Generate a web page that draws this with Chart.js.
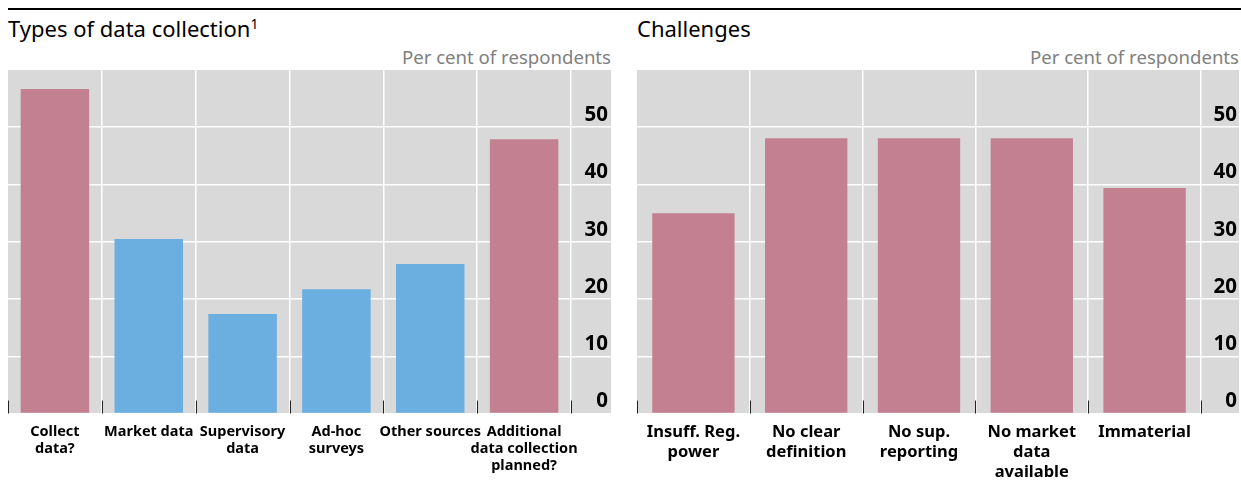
<!DOCTYPE html>
<html>
<head>
<meta charset="utf-8">
<script src="https://cdn.jsdelivr.net/npm/chart.js@4/dist/chart.umd.min.js"></script>
<style>
  html, body { margin: 0; padding: 0; background: #fff; }
  body { width: 1241px; height: 480px; position: relative; overflow: hidden; font-family: "Noto Sans", sans-serif; }
  .rule { position: absolute; left: 8px; top: 8px; width: 1233px; height: 2px; background: #000; }
  .title { position: absolute; font-size: 22px; line-height: 26px; color: #000; white-space: nowrap; }
  .title sup { font-size: 14px; vertical-align: 0; position: relative; top: -8px; }
  .unit { position: absolute; font-size: 18.6px; line-height: 22px; color: #808080; white-space: nowrap; text-align: right; }
  canvas { position: absolute; top: 0; }
</style>
</head>
<body>
<div class="rule"></div>
<div class="title" style="left:8px; top:15px;">Types of data collection<sup>1</sup></div>
<div class="unit" style="right:630px; top:46px;">Per cent of respondents</div>
<div class="title" style="left:637px; top:15px;">Challenges</div>
<div class="unit" style="right:2px; top:46px;">Per cent of respondents</div>
<canvas id="c1" width="620" height="480" style="left:0px;"></canvas>
<canvas id="c2" width="621" height="480" style="left:620px;"></canvas>
<script>
// ---- data ----
const typeCategories = [['Collect', 'data?'], ['Market data'], ['Supervisory', 'data'], ['Ad-hoc', 'surveys'], ['Other sources'], ['Additional', 'data collection', 'planned?']];
const typeValues = [56.7, 30.5, 17.4, 21.7, 26.1, 47.9];
const challengeCategories = [['Insuff. Reg.', 'power'], ['No clear', 'definition'], ['No sup.', 'reporting'], ['No market', 'data', 'available'], ['Immaterial']];
const challengeValues = [35.0, 48.1, 48.1, 48.1, 39.4];
const yTickValues = [0, 10, 20, 30, 40, 50];

// ---- styles ----
const PINK = '#C38090';
const BLUE = '#6BAEE0';
const BG = '#D9D9D9';

const panelPlugin = {
  id: 'panel',
  beforeDraw(chart, args, opts) {
    const { ctx, chartArea } = chart;
    ctx.save();
    ctx.fillStyle = BG;
    ctx.fillRect(chartArea.left, chartArea.top, chartArea.right - chartArea.left + opts.extra, chartArea.bottom - chartArea.top);
    ctx.restore();
  },
  beforeDatasetsDraw(chart) {
    const { ctx, chartArea } = chart;
    const xs = chart.scales.x;
    const n = chart.data.labels.length;
    const half = (xs.getPixelForValue(1) - xs.getPixelForValue(0)) / 2;
    ctx.save();
    ctx.strokeStyle = '#222';
    ctx.lineWidth = 1;
    for (let i = 0; i <= n; i++) {
      const px = Math.round(xs.getPixelForValue(i) - half) + 0.5;
      ctx.beginPath();
      ctx.moveTo(px, chartArea.bottom - 13);
      ctx.lineTo(px, chartArea.bottom);
      ctx.stroke();
    }
    ctx.restore();
  }
};

function makeChart(id, labels, values, colorFn, cfg) {
  return new Chart(document.getElementById(id), {
    type: 'bar',
    data: {
      labels: labels,
      datasets: [{ data: values, backgroundColor: colorFn, borderWidth: 0, barPercentage: 0.73, categoryPercentage: 1 }]
    },
    plugins: [panelPlugin],
    options: {
      responsive: false,
      animation: false,
      devicePixelRatio: 1,
      layout: { padding: { left: cfg.padLeft, right: cfg.padRight, top: 70, bottom: 0 } },
      plugins: { legend: { display: false }, tooltip: { enabled: false }, panel: { extra: cfg.extra } },
      scales: {
        x: {
          type: 'category',
          offset: true,
          grid: {
            offset: true,
            drawTicks: false,
            lineWidth: 1.5,
            color: (c) => (c.index === 0 ? 'rgba(0,0,0,0)' : '#FFFFFF')
          },
          border: { display: false },
          ticks: {
            color: '#000',
            autoSkip: false,
            maxRotation: 0,
            padding: cfg.labelPad,
            font: { family: 'Noto Sans', weight: 'bold', size: cfg.labelSize, lineHeight: cfg.lineHeight }
          },
          afterFit: (s) => { s.height = 66.5; }
        },
        y: {
          position: 'right',
          min: 0,
          max: 60,
          grid: {
            lineWidth: 1.5,
            drawTicks: true,
            tickLength: cfg.extra,
            color: (c) => (c.tick && c.tick.value === 60 ? 'rgba(0,0,0,0)' : '#FFFFFF'),
            tickColor: (c) => (c.tick && c.tick.value === 60 ? 'rgba(0,0,0,0)' : '#FFFFFF')
          },
          border: { display: false },
          afterBuildTicks: (s) => { s.ticks = yTickValues.concat([60]).map(v => ({ value: v })); },
          ticks: {
            color: '#000',
            padding: 0,
            crossAlign: 'far',
            labelOffset: -12,
            callback: (v) => (yTickValues.includes(v) ? String(v) : ''),
            font: { family: 'Noto Sans', weight: 'bold', size: 20.5 }
          },
          afterFit: (s) => { s.width = cfg.axisW; }
        }
      }
    }
  });
}

makeChart('c1', typeCategories, typeValues,
  (c) => (c.index === 0 || c.index === typeValues.length - 1 ? PINK : BLUE),
  { padLeft: 8, padRight: 12, axisW: 37, extra: 40, labelSize: 14.5, lineHeight: 1.17, labelPad: 9.5 });

makeChart('c2', challengeCategories, challengeValues,
  () => PINK,
  { padLeft: 17, padRight: 4, axisW: 36, extra: 38, labelSize: 16.5, lineHeight: 1.21, labelPad: 9 });
</script>
</body>
</html>
